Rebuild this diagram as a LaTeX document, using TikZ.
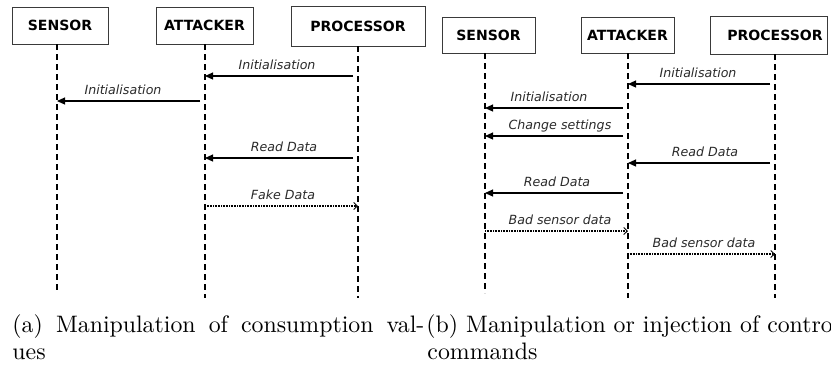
\documentclass[tikz,border=0pt]{standalone}
\usepackage{fontspec}
\usetikzlibrary{arrows.meta}
\newfontfamily\seqfont{DejaVu Sans}
\newlength{\pu}
\setlength{\pu}{0.42pt}
\definecolor{lblgray}{HTML}{2A2A2A}
\definecolor{boxedge}{HTML}{3A3A3A}
\tikzset{
  actor/.style={draw=boxedge, line width=1\pu, fill=white, inner sep=0pt,
    font=\seqfont\bfseries\fontsize{5.9pt}{7pt}\selectfont},
  lifeline/.style={line width=1.3\pu, dash pattern=on 6\pu off 4\pu},
  call/.style={line width=1.1\pu, shorten <=5\pu, -{Triangle[length=3.36pt,width=2.94pt]}},
  reply/.style={line width=1.1\pu, dash pattern=on 1\pu off 0.6\pu,
    -{Straight Barb[length=1.5pt,width=2.94pt,line width=0.42pt]}},
  msglabel/.style={anchor=base, inner sep=0pt, text=lblgray,
    font=\seqfont\itshape\fontsize{5.3pt}{6.5pt}\selectfont},
  captionline/.style={anchor=base west, inner sep=0pt}
}
\begin{document}
\begin{tikzpicture}[x=\pu, y=-\pu]
\useasboundingbox (0,0) rectangle (831,366);
\clip (0,0) rectangle (831,366);

% ---------- (a) consumption values ----------
\node[actor, minimum width=96\pu, minimum height=37\pu] (sensA) at (60,25.5) {SENSOR};
\node[actor, minimum width=97\pu, minimum height=37\pu] (attA) at (204.5,25.5) {ATTACKER};
\node[actor, minimum width=134\pu, minimum height=40\pu] (procA) at (358,26) {PROCESSOR};

\coordinate (sAtop) at (57,44);   \coordinate (sAbot) at (57,292);
\coordinate (aAtop) at (205,44);  \coordinate (aAbot) at (205,298);
\coordinate (pAtop) at (358,46);  \coordinate (pAbot) at (358,298);
\draw[lifeline] (sAtop) -- (sAbot);
\draw[lifeline] (aAtop) -- (aAbot);
\draw[lifeline] (pAtop) -- (pAbot);

\draw[call]  (pAtop |- 0,76) -- (aAtop |- 0,76);
\node[msglabel] (mA1) at (277,69.5) {Initialisation};
\draw[call]  (aAtop |- 0,101) -- (sAtop |- 0,101);
\node[msglabel] (mA2) at (123,94.5) {Initialisation};
\draw[call]  (pAtop |- 0,158) -- (aAtop |- 0,158);
\node[msglabel] (mA3) at (284,151.5) {Read Data};
\draw[reply] (aAtop |- 0,206) -- (pAtop |- 0,206);
\node[msglabel] (mA4) at (283,199.5) {Fake Data};

% ---------- (b) control commands ----------
\node[actor, minimum width=93\pu, minimum height=36\pu] (sensB) at (488.5,35) {SENSOR};
\node[actor, minimum width=93\pu, minimum height=36\pu] (attB) at (627.5,35) {ATTACKER};
\node[actor, minimum width=117\pu, minimum height=38\pu] (procB) at (768.5,35) {\hspace*{13\pu}PROCESSOR};

\coordinate (sBtop) at (485,53);  \coordinate (sBbot) at (485,293);
\coordinate (aBtop) at (628,53);  \coordinate (aBbot) at (628,298);
\coordinate (pBtop) at (775,54);  \coordinate (pBbot) at (775,298);
\draw[lifeline] (sBtop) -- (sBbot);
\draw[lifeline] (aBtop) -- (aBbot);
\draw[lifeline] (pBtop) -- (pBbot);

\draw[call]  (pBtop |- 0,84) -- (aBtop |- 0,84);
\node[msglabel] (mB1) at (698,77.5) {Initialisation};
\draw[call]  (aBtop |- 0,108) -- (sBtop |- 0,108);
\node[msglabel] (mB2) at (549,101.5) {Initialisation};
\draw[call]  (aBtop |- 0,136) -- (sBtop |- 0,136);
\node[msglabel] (mB3) at (560,129.5) {Change settings};
\draw[call]  (pBtop |- 0,163) -- (aBtop |- 0,163);
\node[msglabel] (mB4) at (705,156.5) {Read Data};
\draw[call]  (aBtop |- 0,193) -- (sBtop |- 0,193);
\node[msglabel] (mB5) at (557,186.5) {Read Data};
\draw[reply] (sBtop |- 0,231) -- (aBtop |- 0,231);
\node[msglabel] (mB6) at (560,224.5) {Bad sensor data};
\draw[reply] (aBtop |- 0,254) -- (pBtop |- 0,254);
\node[msglabel] (mB7) at (704,247.5) {Bad sensor data};

% ---------- sub-captions ----------
\node[captionline] (capA1) at (12,332) {\makebox[173pt][s]{(a) Manipulation of consumption val-}};
\node[captionline] (capA2) at (12,359.5) {ues};
\node[captionline] (capB1) at (426,332) {(b) Manipulation or injection of control};
\node[captionline] (capB2) at (427,359.5) {commands};
\end{tikzpicture}
\end{document}
